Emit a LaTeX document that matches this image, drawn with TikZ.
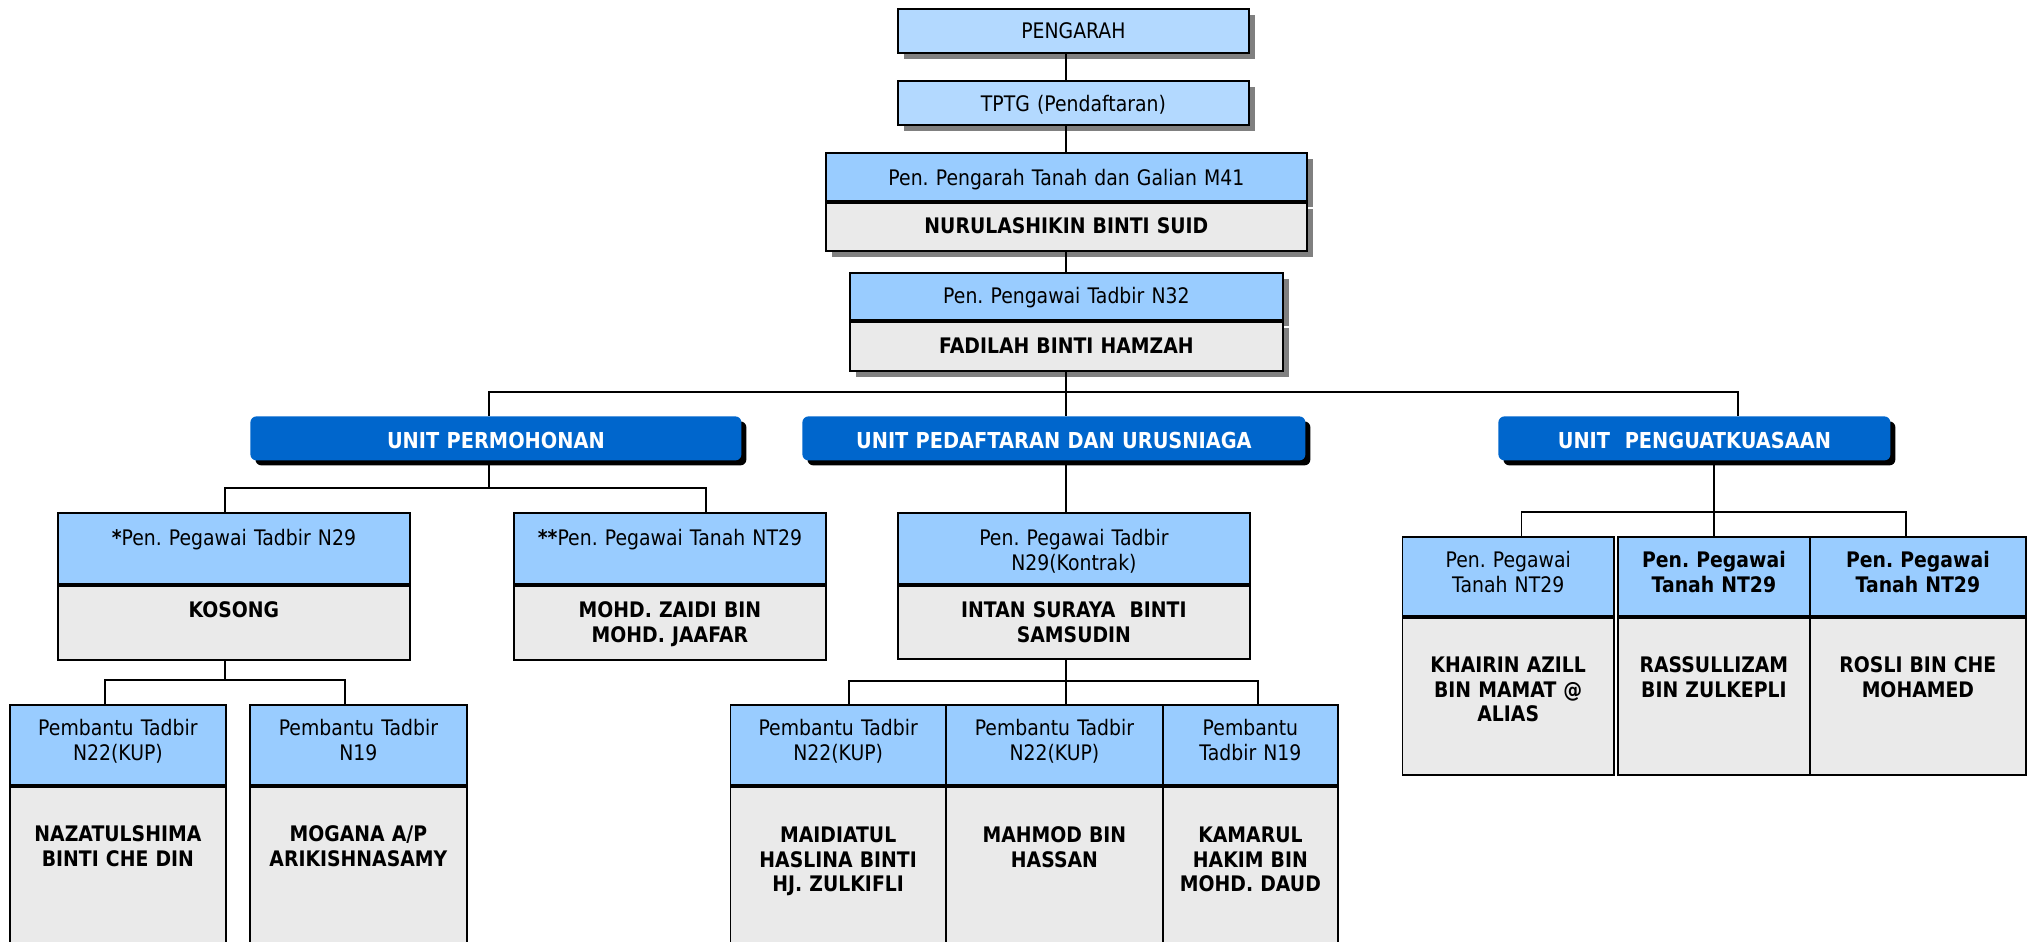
\documentclass[tikz,border=0pt]{standalone}
\usepackage{fontspec}
\setmainfont{DejaVu Sans}[FakeStretch=0.88]
\usepackage{tikz}
\usetikzlibrary{shadows}
\definecolor{topblue}{HTML}{B3D9FF}
\definecolor{headblue}{HTML}{99CCFF}
\definecolor{namegray}{HTML}{EAEAEA}
\definecolor{unitblue}{HTML}{0066CC}
\definecolor{shadowgray}{HTML}{808080}
\tikzset{
    box line/.style={draw=black, line width=0.9pt},
    cell size/.style n args={3}{text width=#1, text height=#2, text depth=#3},
    cell/.style={box line, inner sep=0pt, align=center, anchor=north west},
    top cell/.style={cell, general shadow={fill=shadowgray, shadow xshift=3pt, shadow yshift=-3pt}},
    head cell/.style={cell, fill=headblue},
    name cell/.style={cell, fill=namegray, font=\bfseries},
    unit box/.style={fill=unitblue, text=white, font=\fontsize{11pt}{13pt}\selectfont\bfseries,
        rounded corners=3pt, inner sep=0pt, align=center, anchor=north west,
        general shadow={fill=black, shadow xshift=2.5pt, shadow yshift=-2.5pt}},
    link/.style={line width=0.9pt},
}

\begin{document}
\frenchspacing
\fontsize{10.7pt}{12.2pt}\selectfont
\begin{tikzpicture}[x=0.5pt, y=-0.5pt]
    \useasboundingbox (0,0) rectangle (2031,942);

    % top of the chart
    \node[top cell, fill=topblue, cell size={175.5pt}{15pt}{7pt}] (pengarah) at (897,8) {PENGARAH};
    \node[top cell, fill=topblue, cell size={175.5pt}{15.5pt}{6.5pt}] (tptg) at (897,80) {TPTG (Pendaftaran)};
    \node[top cell, fill=headblue, cell size={240.5pt}{16.5pt}{7.5pt}] (m41h) at (825,152) {Pen. Pengarah Tanah dan Galian M41};
    \node[top cell, name cell, cell size={240.5pt}{15.5pt}{8.5pt}] (m41n) at (m41h.south west) {NURULASHIKIN BINTI SUID};
    \node[top cell, fill=headblue, cell size={216.5pt}{15.5pt}{8pt}] (n32h) at (849,272) {Pen. Pengawai Tadbir N32};
    \node[top cell, name cell, cell size={216.5pt}{16pt}{8.5pt}] (n32n) at (n32h.south west) {FADILAH BINTI HAMZAH};

    % units
    \node[unit box, cell size={245.5pt}{16pt}{6pt}] (u1) at (250,416) {UNIT PERMOHONAN};
    \node[unit box, cell size={251.5pt}{16pt}{6pt}] (u2) at (802,416) {UNIT PEDAFTARAN DAN URUSNIAGA};
    \node[unit box, cell size={196pt}{16pt}{6pt}] (u3) at (1498,416) {UNIT\ \ PENGUATKUASAAN};

    % unit permohonan
    \node[head cell, cell size={176pt}{16.5pt}{19pt}] (Ah) at (57,512) {\textbf{*}Pen. Pegawai Tadbir N29};
    \node[name cell, cell size={176pt}{16pt}{21pt}] (An) at (Ah.south west) {KOSONG};
    \node[head cell, cell size={156pt}{16.5pt}{19pt}] (Bh) at (513,512) {\textbf{**}Pen. Pegawai Tanah NT29};
    \node[name cell, cell size={156pt}{16pt}{21pt}] (Bn) at (Bh.south west) {MOHD. ZAIDI BIN\\MOHD. JAAFAR};
    \node[head cell, cell size={108pt}{15.5pt}{24.5pt}] (Ch) at (9,704) {Pembantu Tadbir\\N22(KUP)};
    \node[name cell, cell size={108pt}{27.5pt}{55.5pt}] (Cn) at (Ch.south west) {NAZATULSHIMA\\BINTI CHE DIN};
    \node[head cell, cell size={108.5pt}{15.5pt}{24.5pt}] (Dh) at (249,704) {Pembantu Tadbir\\N19};
    \node[name cell, cell size={108.5pt}{27.5pt}{55.5pt}] (Dn) at (Dh.south west) {MOGANA A/P\\ARIKISHNASAMY};

    % unit pendaftaran
    \node[head cell, cell size={176pt}{16.5pt}{19pt}] (Eh) at (897,512) {Pen. Pegawai Tadbir\\N29(Kontrak)};
    \node[name cell, cell size={176pt}{16pt}{20.5pt}] (En) at (Eh.south west) {INTAN SURAYA\ \ BINTI\\SAMSUDIN};
    \node[head cell, cell size={107.75pt}{15.5pt}{24.5pt}] (Fh) at (729.5,704) {Pembantu Tadbir\\N22(KUP)};
    \node[name cell, cell size={107.75pt}{28pt}{55pt}] (Fn) at (Fh.south west) {MAIDIATUL\\HASLINA BINTI\\HJ. ZULKIFLI};
    \node[head cell, cell size={108.5pt}{15.5pt}{24.5pt}] (Gh) at (945,704) {Pembantu Tadbir\\N22(KUP)};
    \node[name cell, cell size={108.5pt}{28pt}{55pt}] (Gn) at (Gh.south west) {MAHMOD BIN\\HASSAN};
    \node[head cell, cell size={87.5pt}{15.5pt}{24.5pt}] (Hh) at (1162,704) {Pembantu\\Tadbir N19};
    \node[name cell, cell size={87.5pt}{28pt}{55pt}] (Hn) at (Hh.south west) {KAMARUL\\HAKIM BIN\\MOHD. DAUD};

    % unit penguatkuasaan
    \node[head cell, cell size={105.7pt}{15.5pt}{24pt}] (Ih) at (1401.6,536) {Pen. Pegawai\\Tanah NT29};
    \node[name cell, cell size={105.7pt}{27.5pt}{51pt}] (In) at (Ih.south west) {KHAIRIN AZILL\\BIN MAMAT @\\ALIAS};
    \node[head cell, font=\bfseries, cell size={96pt}{15.5pt}{24pt}] (Jh) at (1617,536) {Pen. Pegawai\\Tanah NT29};
    \node[name cell, cell size={96pt}{27.5pt}{51pt}] (Jn) at (Jh.south west) {RASSULLIZAM\\BIN ZULKEPLI};
    \node[head cell, font=\bfseries, cell size={108pt}{15.5pt}{24pt}] (Kh) at (1809,536) {Pen. Pegawai\\Tanah NT29};
    \node[name cell, cell size={108pt}{27.5pt}{51pt}] (Kn) at (Kh.south west) {ROSLI BIN CHE\\MOHAMED};

    % connectors
    \coordinate (trunk) at (1066,392);
    \coordinate (barW) at (489,392);
    \coordinate (barE) at (1738,392);
    \coordinate (permW) at (225,488);
    \coordinate (permE) at (706,488);
    \coordinate (kosW) at (105,680);
    \coordinate (kosE) at (345,680);
    \coordinate (intW) at (849,681);
    \coordinate (intE) at (1258,681);
    \coordinate (enfW) at (1521.5,512);
    \coordinate (enfE) at (1906,512);

    \draw[link] (trunk |- pengarah.south) -- (trunk |- tptg.north);
    \draw[link] (trunk |- tptg.south) -- (trunk |- m41h.north);
    \draw[link] (trunk |- m41n.south) -- (trunk |- n32h.north);
    \draw[link] (trunk |- n32n.south) -- (trunk |- u2.north);
    \draw[link] (barW |- u1.north) |- (barE) -- (barE |- u3.north);

    \draw[link] (barW |- u1.south) -- (barW |- permW);
    \draw[link] (permW |- Ah.north) |- (permE) -- (permE |- Bh.north);
    \draw[link] (permW |- An.south) -- (permW |- kosW);
    \draw[link] (kosW |- Ch.north) |- (kosE) -- (kosE |- Dh.north);

    \draw[link] (trunk |- u2.south) -- (trunk |- Eh.north);
    \draw[link] (trunk |- En.south) -- (trunk |- Gh.north);
    \draw[link] (intW |- Fh.north) |- (intE) -- (intE |- Hh.north);

    \draw[link] (u3.south -| Jh.north) -- (Jh.north);
    \draw[link] (enfW |- Ih.north) |- (enfE) -- (enfE |- Kh.north);
\end{tikzpicture}
\end{document}
